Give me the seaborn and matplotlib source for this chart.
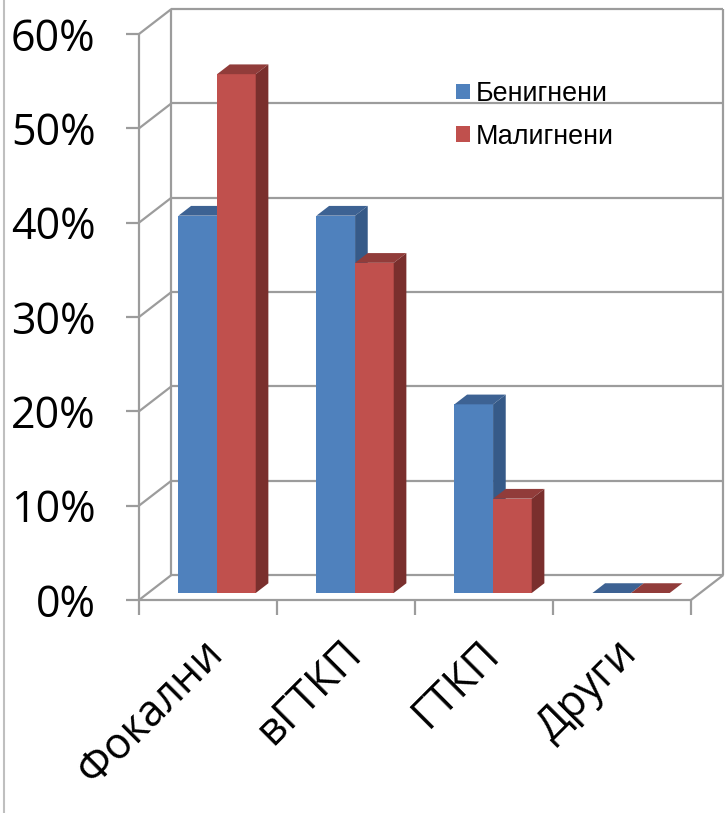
import numpy as np
import pandas as pd
import matplotlib
matplotlib.use("Agg")
import matplotlib.pyplot as plt
import matplotlib.transforms as mtransforms
from matplotlib.patches import Polygon, Patch
from matplotlib.lines import Line2D
from matplotlib.colors import to_rgba
import seaborn as sns

# ---- data -------------------------------------------------------------
categories = ["Фокални", "вГТКП", "ГТКП", "Други"]
series = ["Бенигнени", "Малигнени"]
benign = [40, 40, 20, 0]
malignant = [55, 35, 10, 0]
y_ticks = [0, 10, 20, 30, 40, 50, 60]
y_tick_labels = ["0%", "10%", "20%", "30%", "40%", "50%", "60%"]

# ---- styling ----------------------------------------------------------
front_col = {"Бенигнени": "#4F81BD", "Малигнени": "#C0504D"}
top_col = {"Бенигнени": "#3D6293", "Малигнени": "#913C3A"}
side_col = {"Бенигнени": "#365A88", "Малигнени": "#7A2F2D"}
grid_col = "#9C9C9C"

sns.set_style("white")
plt.rcParams["font.family"] = ["Open Sans", "DejaVu Sans"]
plt.rcParams["text.color"] = "black"
plt.rcParams["xtick.labelcolor"] = "black"
plt.rcParams["ytick.labelcolor"] = "black"

df = pd.DataFrame({
    "category": categories * 2,
    "series": [series[0]] * len(categories) + [series[1]] * len(categories),
    "value": benign + malignant,
})

W, H = 727, 813
fig = plt.figure(figsize=(W / 100, H / 100), dpi=100)
ax = fig.add_axes([139 / W, (H - 600) / H, (722 - 139) / W, (600 - 9) / H])

sns.barplot(data=df, x="category", y="value", hue="series",
            order=categories, hue_order=series,
            palette=[front_col[s] for s in series], saturation=1,
            width=0.56, gap=0, legend=False, edgecolor="none",
            linewidth=0, errorbar=None, ax=ax)

# oblique projection: depth unit -> (dx, dy) in data units
DX, DY = 0.235, 2.65
D0, BD = 0.28, 0.39          # bar front depth and bar thickness
shift = mtransforms.Affine2D().translate(D0 * DX, D0 * DY) + ax.transData

bars = sorted(ax.patches, key=lambda p: p.get_x())
for i, p in enumerate(bars):
    fc = p.get_facecolor()
    name = min(series, key=lambda s: np.sum((np.array(to_rgba(front_col[s])) - np.array(fc)) ** 2))
    x0, w, h = p.get_x(), p.get_width(), p.get_height()
    x1 = x0 + w
    ddx, ddy = BD * DX, BD * DY
    z = 3 + i * 3
    p.set_transform(shift)
    p.set_zorder(z)
    p.set_clip_on(False)
    top = Polygon([(x0, h), (x1, h), (x1 + ddx, h + ddy), (x0 + ddx, h + ddy)],
                  closed=True, facecolor=top_col[name], edgecolor="none",
                  transform=shift, zorder=z + 1, clip_on=False)
    side = Polygon([(x1, 0), (x1, h), (x1 + ddx, h + ddy), (x1 + ddx, ddy)],
                   closed=True, facecolor=side_col[name], edgecolor="none",
                   transform=shift, zorder=z + 2, clip_on=False)
    ax.add_patch(top)
    ax.add_patch(side)

# ---- box frame and gridlines -------------------------------------------
xl, xr = -0.5, len(categories) - 0.5
ymax = y_ticks[-1]
lk = dict(color=grid_col, lw=1.6, zorder=1, clip_on=False, solid_capstyle="butt")
for v in y_ticks:
    ax.plot([xl + DX, xr + DX], [v + DY, v + DY], **lk)
    ax.plot([xl, xl + DX], [v, v + DY], **lk)
ax.plot([xl + DX, xl + DX], [DY, ymax + DY], **lk)
ax.plot([xr + DX, xr + DX], [DY, ymax + DY], **lk)
ax.plot([xl, xl], [0, ymax], **lk)
ax.plot([xl, xr], [0, 0], **lk)
ax.plot([xr, xr + DX], [0, DY], **lk)

ax.set_xlim(xl, xl + 583 / 138)
ax.set_ylim(0, (600 - 9) / (566 / 60))
for s in ax.spines.values():
    s.set_visible(False)

ax.set_yticks(y_ticks, y_tick_labels)
ax.tick_params(axis="y", direction="out", length=9.4, width=1.6,
               color=grid_col, pad=22, labelsize=31, left=True,
               labelcolor="black")
ax.set_xticks(np.arange(xl, xr + 0.01, 1.0), [""] * (len(categories) + 1))
ax.set_xticks(np.arange(len(categories)) + D0 * DX, categories, minor=True)
ax.tick_params(axis="x", which="major", direction="out", length=10.8,
               width=1.6, color=grid_col, bottom=True)
ax.tick_params(axis="x", which="minor", length=0, pad=34, labelsize=31,
               labelcolor="black")
for lab in ax.get_xticklabels(minor=True):
    lab.set_rotation(45)
    lab.set_ha("right")
    lab.set_va("center")
    lab.set_rotation_mode("anchor")
ax.set_xlabel("")
ax.set_ylabel("")

# ---- legend -----------------------------------------------------------
handles = [Patch(facecolor=front_col[s], edgecolor="none", label=s) for s in series]
ax.legend(handles=handles, loc="upper left",
          bbox_to_anchor=(456 / W, 1 - 81 / H), bbox_transform=fig.transFigure,
          frameon=False, borderpad=0, borderaxespad=0,
          handlelength=0.52, handleheight=0.52, handletextpad=0.22,
          labelspacing=0.62, labelcolor="black",
          prop={"family": "Liberation Sans", "size": 19.4})

# chart area border on the left
fig.add_artist(Line2D([4 / W, 4 / W], [0, 1], transform=fig.transFigure,
                      color="#BFBFBF", lw=1.5))

fig.savefig("out.png", dpi=100)
